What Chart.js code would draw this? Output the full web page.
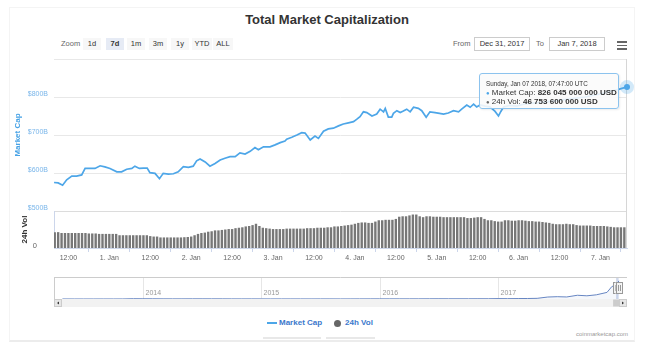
<!DOCTYPE html>
<html>
<head>
<meta charset="utf-8">
<script src="https://cdn.jsdelivr.net/npm/chart.js@4/dist/chart.umd.min.js"></script>
<style>
  html, body { margin: 0; padding: 0; background: #fff; }
  body { width: 654px; height: 363px; position: relative; overflow: hidden;
         font-family: "Liberation Sans", Arial, sans-serif; color: #333; }
  .abs { position: absolute; white-space: nowrap; }
  canvas { position: absolute; left: 0; }
  #frame { left: 9px; top: 7px; width: 624px; height: 332px; border: 1px solid #f4f4f4; border-bottom: 2px solid #ececec; }
  #title { left: 0; width: 654px; top: 12px; line-height: 16px; text-align: center; font-size: 13px; font-weight: bold; color: #333; }
  .btn { top: 38px; height: 12px; line-height: 12px; font-size: 7.5px; text-align: center; background: #f7f7f7; color: #333; }
  .btn.sel { background: #e6ebf5; font-weight: bold; }
  .lbl { font-size: 7.5px; line-height: 12px; top: 38px; color: #666; }
  .date { top: 37px; height: 12px; width: 54px; border: 1px solid #ccc; font-size: 7.5px; line-height: 12px; text-align: center; color: #333; background: #fff; }
  .burger { left: 617px; width: 10px; height: 1.6px; background: #666; }
  #tip { left: 479px; top: 73px; width: 138px; height: 34px; border: 1px solid #8cc3ee; border-radius: 3px;
         background: rgba(250,250,250,0.88); box-shadow: 1px 1px 2px rgba(0,0,0,0.08); }
  #tip div { position: absolute; left: 0; white-space: nowrap; }
  .legtxt { font-size: 8px; font-weight: bold; color: #3b78cc; line-height: 10px; top: 318px; }
</style>
</head>
<body>
<div id="frame" class="abs"></div>
<div id="title" class="abs">Total Market Capitalization</div>
<div class="abs lbl" style="left:61px;">Zoom</div>
<div id="buttons"></div>
<div class="abs lbl" style="left:453px;">From</div>
<div class="abs date" style="left:474px;" id="fromBox"></div>
<div class="abs lbl" style="left:536px;">To</div>
<div class="abs date" style="left:549px;" id="toBox"></div>
<div class="abs burger" style="top:41px;"></div>
<div class="abs burger" style="top:44.5px;"></div>
<div class="abs burger" style="top:48px;"></div>

<canvas id="main" width="654" height="270" style="top:0;"></canvas>
<canvas id="nav" width="654" height="45" style="top:270px;"></canvas>

<div id="tip" class="abs"></div>

<div class="abs" style="left:267px; top:322px; width:10px; height:1.5px; background:#4da6e8;"></div>
<div class="abs legtxt" style="left:279px;">Market Cap</div>
<div class="abs" style="left:333.5px; top:319.5px; width:7px; height:7px; border-radius:50%; background:#666;"></div>
<div class="abs legtxt" style="left:345px;">24h Vol</div>
<div class="abs" style="left:263px; top:337px; width:58px; height:2px; background:#e8e8e8;"></div>
<div class="abs" style="left:326px; top:337px; width:49px; height:2px; background:#e8e8e8;"></div>
<div class="abs" style="left:560px; width:68px; top:330px; font-size:6px; line-height:8px; text-align:right; color:#999;">coinmarketcap.com</div>

<script>
// hours counted from Dec 31 2017 00:00 UTC
const startHour = 7.78;   // Dec 31, 07:47
const endHour = 175.78;   // Jan 7, 07:47
const tickHours = [12, 24, 36, 48, 60, 72, 84, 96, 108, 120, 132, 144, 156, 168];
const tickLabels = ['12:00', '1. Jan', '12:00', '2. Jan', '12:00', '3. Jan', '12:00',
                    '4. Jan', '12:00', '5. Jan', '12:00', '6. Jan', '12:00', '7. Jan'];
const capTicks = [500, 600, 700, 800, 900];

// market cap, billions USD
const capHours = [7.8, 9.0, 10.3, 11.5, 13.0, 14.4, 15.9, 16.9, 18.3, 19.8, 21.3, 22.7, 24.2, 26.2, 27.6, 29.1,
  30.6, 31.5, 32.8, 34.0, 35.1, 35.9, 37.4, 38.7, 39.8, 41.3, 42.8, 44.2, 45.7, 47.2, 48.6, 49.6, 50.6, 52.1,
  53.5, 55.0, 56.5, 57.9, 59.4, 60.9, 62.3, 63.8, 65.3, 66.7, 67.7, 69.2, 71.1, 72.6, 74.1, 75.5, 76.0, 77.5,
  79.0, 80.4, 81.4, 82.9, 84.3, 85.3, 86.8, 88.2, 89.7, 91.2, 92.6, 94.1, 95.6, 96.5, 97.5, 98.5, 99.5, 101.0,
  102.4, 103.4, 104.4, 104.9, 105.8, 106.8, 107.3, 108.3, 109.3, 110.2, 111.2, 112.2, 113.2, 114.6, 115.6,
  116.9, 118.0, 119.5, 120.8, 122.0, 123.4, 124.9, 126.4, 127.3, 128.8, 129.8, 130.8, 131.7, 132.7, 134.2,
  135.6, 137.1, 138.1, 138.8, 139.6, 141.5, 143.5, 145.4, 147.4, 150.3, 154.7, 159.1, 163.5, 167.9, 170.9,
  173.3, 174.8, 175.78];
const capValues = [575, 574, 568, 582, 592, 592, 595, 612, 612, 612, 619, 616, 612, 603, 603, 610,
  612, 618, 612, 613, 613, 601, 599, 585, 599, 597, 598, 603, 617, 615, 618, 632, 637, 629,
  618, 625, 634, 639, 643, 643, 653, 650, 657, 667, 661, 669, 669, 674, 680, 684, 689, 694,
  700, 706, 705, 687, 697, 691, 710, 716, 718, 724, 729, 732, 735, 741, 748, 761, 759, 750,
  755, 768, 761, 770, 747, 747, 757, 764, 759, 763, 768, 761, 773, 770, 764,
  747, 761, 759, 757, 755, 758, 764, 761, 768, 779, 773, 781, 774, 779, 776,
  774, 762, 750, 762, 774, 778, 776, 781, 783, 785, 790, 795, 800, 808, 815,
  820, 824, 826.045];

// 24h volume, billions USD, one bar per hour starting at volStartHour
const volStartHour = 8;
const volValues = [
  36, 36, 34, 34, 34, 34, 34, 34, 34, 34, 33, 33, 33, 32, 32, 32, 32, 32, 32,
  29, 29, 29, 29, 29, 29, 29, 29, 29, 27, 26, 26, 24, 24, 24, 24, 24, 24, 24, 24.5, 25,
  26, 29, 32, 34, 35, 37, 38, 40, 40, 41, 42, 43, 43, 45, 46, 47, 49, 50, 52, 55, 50,
  46, 45, 44, 43, 43, 43, 43, 44, 44, 44, 44, 44, 44, 45, 45, 45, 46, 46, 46, 47, 47,
  49, 49, 50, 51, 52, 53, 55, 57, 58, 58, 57, 57, 60, 63, 63, 64, 64, 64, 66,
  71, 72, 72, 74, 76, 76, 72, 70, 72, 72, 71, 71, 71, 70, 70, 70, 70, 70, 70, 70,
  68, 68, 69, 70, 70, 66, 63, 63, 61, 60, 60, 63, 63, 62, 62, 63, 63, 62,
  61, 61, 60, 60, 59, 58, 57, 55, 54, 54, 54, 55, 54, 54,
  52, 51, 51, 51, 51, 50, 50, 50, 50, 49, 48, 47, 47, 47, 47];

const lastCapUsd = 826045000000;
const lastVolUsd = 46753600000;
const tipHeader = 'Sunday, Jan 07 2018, 07:47:00 UTC';

// navigator: whole history, fractional years, billions USD
const navYears = [2014, 2015, 2016, 2017];
const navX = [2013.32, 2013.42, 2013.5, 2013.58, 2013.67, 2013.75, 2013.83, 2013.92,
  2014.0, 2014.08, 2014.17, 2014.25, 2014.33, 2014.42, 2014.5, 2014.58, 2014.67, 2014.75, 2014.83, 2014.92,
  2015.0, 2015.08, 2015.17, 2015.25, 2015.33, 2015.42, 2015.5, 2015.58, 2015.67, 2015.75, 2015.83, 2015.92,
  2016.0, 2016.08, 2016.17, 2016.25, 2016.33, 2016.42, 2016.5, 2016.58, 2016.67, 2016.75, 2016.83, 2016.92,
  2017.0, 2017.08, 2017.17, 2017.25, 2017.33, 2017.42, 2017.5, 2017.58, 2017.67, 2017.75, 2017.83, 2017.92,
  2017.96, 2017.98, 2018.0, 2018.02];
const navValues = [1.5, 1.4, 1.0, 1.2, 1.5, 1.7, 2.5, 13,
  10, 10, 7, 6, 6, 8, 8.5, 7.5, 6.5, 5.5, 4.8, 5.3,
  4.5, 3.5, 4, 3.9, 3.6, 3.5, 4.3, 4.5, 3.5, 3.7, 5.5, 5.7,
  7, 6.4, 7, 7, 7.7, 9.3, 11, 10, 10, 10.5, 11.5, 12,
  18, 16, 20, 23, 30, 90, 105, 93, 170, 145, 190, 300,
  560, 610, 595, 826];
const navMin = 2013.249, navMax = 2018.089;
const navFrom = 2017.997, navTo = 2018.018;

const zoomButtons = ['1d', '7d', '1m', '3m', '1y', 'YTD', 'ALL'];
const selectedZoom = '7d';
const fromText = 'Dec 31, 2017';
const toText = 'Jan 7, 2018';

const FONT = '"Liberation Sans", Arial, sans-serif';
const capColor = '#4da6e8';
Chart.defaults.font.family = FONT;

// range selector buttons
const btnCenters = [92, 115, 136, 158, 180, 202, 223];
const btnBox = document.getElementById('buttons');
zoomButtons.forEach((b, i) => {
  const el = document.createElement('div');
  const w = b.length > 2 ? 20 : 18;
  el.className = 'abs btn' + (b === selectedZoom ? ' sel' : '');
  el.style.left = (btnCenters[i] - w / 2) + 'px';
  el.style.width = w + 'px';
  el.textContent = b;
  btnBox.appendChild(el);
});
document.getElementById('fromBox').textContent = fromText;
document.getElementById('toBox').textContent = toText;

// tooltip
const fmt = n => n.toString().replace(/\B(?=(\d{3})+(?!\d))/g, ' ');
const tip = document.getElementById('tip');
tip.innerHTML =
  '<div style="top:6px;left:6px;font-size:6.3px;line-height:8px;color:#333;">' + tipHeader + '</div>' +
  '<div style="top:14px;left:6px;font-size:8px;line-height:9px;"><span style="color:' + capColor + ';font-size:6px;">\u25CF</span> Market Cap: <b>' + fmt(lastCapUsd) + ' USD</b></div>' +
  '<div style="top:22.5px;left:6px;font-size:8px;line-height:9px;"><span style="color:#666;font-size:6px;">\u25CF</span> 24h Vol: <b>' + fmt(lastVolUsd) + ' USD</b></div>';

const crosshair = {
  id: 'crosshair',
  beforeDatasetsDraw(chart) {
    const {ctx, chartArea: a, scales: {x}} = chart;
    const px = Math.round(x.getPixelForValue(capHours[capHours.length - 1])) - 0.5;
    ctx.save();
    ctx.strokeStyle = '#d6d6d6';
    ctx.lineWidth = 1;
    ctx.beginPath();
    ctx.moveTo(px, a.top);
    ctx.lineTo(px, a.bottom);
    ctx.stroke();
    ctx.restore();
  }
};

new Chart(document.getElementById('main'), {
  type: 'bar',
  data: {
    datasets: [
      {
        type: 'line', label: 'Market Cap', yAxisID: 'y', order: 0,
        data: capHours.map((h, i) => ({x: h, y: capValues[i]})),
        borderColor: capColor, borderWidth: 1.7, tension: 0, clip: false,
        pointRadius: c => c.dataIndex === capHours.length - 1 ? 3 : 0,
        pointBackgroundColor: capColor, pointBorderWidth: 0
      },
      {
        type: 'line', label: 'hover', yAxisID: 'y', order: 1, showLine: false, clip: false,
        data: [{x: capHours[capHours.length - 1], y: capValues[capValues.length - 1]}],
        pointRadius: 7, pointBackgroundColor: 'rgba(77,166,232,0.25)', pointBorderWidth: 0
      },
      {
        type: 'bar', label: '24h Vol', yAxisID: 'yVol', order: 2,
        data: volValues.map((v, i) => ({x: volStartHour + i, y: v})),
        backgroundColor: '#777777', barPercentage: 1, categoryPercentage: 0.7
      }
    ]
  },
  options: {
    responsive: false,
    animation: false,
    devicePixelRatio: 1,
    layout: {padding: {left: 0, right: 27, top: 59, bottom: 2}},
    plugins: {legend: {display: false}, tooltip: {enabled: false}},
    scales: {
      x: {
        type: 'linear', min: startHour, max: endHour, offset: false,
        afterBuildTicks: s => { s.ticks = tickHours.map(v => ({value: v})); },
        afterFit: s => { s.height = 20; },
        ticks: {
          callback: (v, i) => tickLabels[i], autoSkip: false, maxRotation: 0,
          font: {size: 7}, color: '#666', padding: 2
        },
        grid: {drawOnChartArea: false, tickLength: 4, color: '#ccd6eb'},
        border: {color: '#ccd6eb'}
      },
      yVol: {
        position: 'left', stack: 'panes', stackWeight: 37, min: 0, max: 84,
        afterBuildTicks: s => { s.ticks = [{value: 0}]; },
        afterFit: s => { s.width = 54; },
        ticks: {font: {size: 7.5}, color: '#666', padding: 9, labelOffset: -2},
        grid: {display: false},
        border: {display: true, color: '#ccd6eb'},
        title: {display: true, text: '24h Vol', color: '#333', font: {size: 8, weight: 'bold'}, padding: {top: 20}}
      },
      y: {
        position: 'left', stack: 'panes', stackWeight: 152, min: 500, max: 900,
        afterBuildTicks: s => { s.ticks = capTicks.map(v => ({value: v})); },
        afterFit: s => { s.width = 54; },
        ticks: {
          callback: v => v === 900 ? '' : '$' + v + 'B',
          font: {size: 7}, color: '#7ab6ea', padding: 6, labelOffset: -3
        },
        grid: {drawTicks: false, color: c => c.tick && c.tick.value === 500 ? '#dcdcdc' : '#e8e8e8'},
        border: {display: false},
        title: {display: true, text: 'Market Cap', color: '#48a3e6', font: {size: 8, weight: 'bold'}, padding: {top: 13}}
      }
    }
  },
  plugins: [crosshair]
});

const navDecor = {
  id: 'navDecor',
  beforeDatasetsDraw(chart) {
    const {ctx, chartArea: a, scales: {x}} = chart;
    ctx.save();
    ctx.strokeStyle = '#e6e6e6';
    ctx.lineWidth = 1;
    ctx.font = '7px ' + FONT;
    ctx.fillStyle = '#999';
    navYears.forEach(yr => {
      const px = Math.round(x.getPixelForValue(yr)) + 0.5;
      ctx.beginPath();
      ctx.moveTo(px, a.top);
      ctx.lineTo(px, a.bottom);
      ctx.stroke();
      ctx.fillText(String(yr), px + 2, a.bottom - 4);
    });
    ctx.restore();
  },
  afterDraw(chart) {
    const {ctx, chartArea: a, scales: {x}} = chart;
    const x1 = x.getPixelForValue(navFrom), x2 = x.getPixelForValue(navTo);
    ctx.save();
    // selected range
    ctx.fillStyle = 'rgba(102,133,194,0.3)';
    ctx.fillRect(x1, a.top, Math.max(x2 - x1, 2), a.bottom - a.top);
    // outline
    ctx.strokeStyle = '#cccccc';
    ctx.lineWidth = 1;
    ctx.beginPath();
    ctx.moveTo(a.left, a.top + 0.5);
    ctx.lineTo(a.right, a.top + 0.5);
    ctx.moveTo(a.left + 0.5, a.top);
    ctx.lineTo(a.left + 0.5, a.bottom);
    ctx.stroke();
    // scrollbar
    const sy = a.bottom, sh = 8;
    ctx.fillStyle = '#f2f2f2';
    ctx.fillRect(a.left, sy, a.right - a.left, sh);
    ctx.fillStyle = '#e6e6e6';
    ctx.strokeStyle = '#cccccc';
    [a.left, a.right - sh].forEach(bx => {
      ctx.fillRect(bx, sy, sh, sh);
      ctx.strokeRect(bx + 0.5, sy + 0.5, sh - 1, sh - 1);
    });
    ctx.fillStyle = '#333';
    ctx.beginPath();
    ctx.moveTo(a.left + 5, sy + 2.5); ctx.lineTo(a.left + 5, sy + 5.5); ctx.lineTo(a.left + 3, sy + 4); ctx.closePath();
    ctx.moveTo(a.right - 5, sy + 2.5); ctx.lineTo(a.right - 5, sy + 5.5); ctx.lineTo(a.right - 3, sy + 4); ctx.closePath();
    ctx.fill();
    ctx.fillStyle = '#cccccc';
    ctx.fillRect(x1 - 3, sy + 0.5, Math.max(x2 - x1, 6), sh - 1);
    // handles
    const hy = (a.top + a.bottom) / 2 - 6;
    [x1, x2].forEach(hx => {
      ctx.fillStyle = '#f2f2f2';
      ctx.strokeStyle = '#999';
      ctx.fillRect(hx - 3, hy, 6, 12);
      ctx.strokeRect(Math.round(hx - 3) + 0.5, hy + 0.5, 6, 11);
      ctx.beginPath();
      ctx.moveTo(Math.round(hx) - 0.5, hy + 3); ctx.lineTo(Math.round(hx) - 0.5, hy + 9);
      ctx.moveTo(Math.round(hx) + 1.5, hy + 3); ctx.lineTo(Math.round(hx) + 1.5, hy + 9);
      ctx.stroke();
    });
    ctx.restore();
  }
};

new Chart(document.getElementById('nav'), {
  type: 'line',
  data: {
    datasets: [{
      data: navX.map((v, i) => ({x: v, y: navValues[i]})),
      borderColor: '#6685c2', borderWidth: 1, tension: 0, pointRadius: 0,
      fill: 'origin', backgroundColor: 'rgba(51,92,173,0.05)'
    }]
  },
  options: {
    responsive: false,
    animation: false,
    devicePixelRatio: 1,
    layout: {padding: {left: 54, right: 27, top: 7, bottom: 16}},
    plugins: {legend: {display: false}, tooltip: {enabled: false}},
    scales: {
      x: {type: 'linear', display: false, min: navMin, max: navMax},
      y: {display: false, min: 0, max: 1000}
    }
  },
  plugins: [navDecor]
});
</script>
</body>
</html>
